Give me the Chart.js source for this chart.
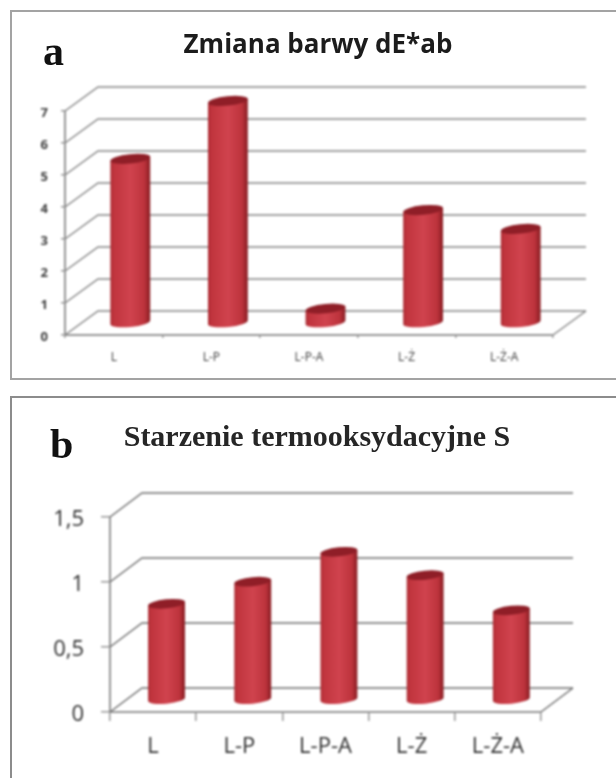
<!DOCTYPE html>
<html>
<head>
<meta charset="utf-8">
<title>Zmiana barwy i starzenie</title>
<script src="https://cdn.jsdelivr.net/npm/chart.js@4"></script>
<style>
  html, body { margin: 0; padding: 0; background: #fff; overflow: hidden; }
  body { position: relative; width: 616px; height: 778px; }
  .frame { position: absolute; box-sizing: border-box; background: #fff; }
  #frameA { left: 10px; top: 10px; width: 620px; height: 370px; border: 2px solid #a3a3a3; }
  #frameB { left: 10px; top: 396px; width: 620px; height: 400px; border: 2px solid #8c8c8c; }
  canvas { position: absolute; filter: blur(0.8px); }
  #chartA { left: 20px; top: 12px; }
  #chartB { left: 18px; top: 398px; }
  .letter { position: absolute; font: bold 42px "Liberation Serif", serif; color: #111; line-height: 1; }
  .title { position: absolute; transform: translate(-50%, -50%); white-space: nowrap; color: #1c1c1c; filter: blur(0.5px); line-height: 1; }
  #titleA { left: 318px; top: 43px; font: bold 26px "Open Sans", sans-serif; }
  #titleB { left: 317px; top: 436px; font: bold 30px "Liberation Serif", serif; color: #262626; }
</style>
</head>
<body>
<div class="frame" id="frameA"></div>
<div class="frame" id="frameB"></div>
<canvas id="chartA" width="596" height="366"></canvas>
<canvas id="chartB" width="598" height="380"></canvas>
<div class="letter" style="left:43px;top:30px">a</div>
<div class="letter" style="left:50px;top:423px">b</div>
<div class="title" id="titleA">Zmiana barwy dE*ab</div>
<div class="title" id="titleB">Starzenie termooksydacyjne S</div>
<script>
  const categories = ["L", "L-P", "L-P-A", "L-Ż", "L-Ż-A"];
  const valuesA = [5.13, 6.94, 0.45, 3.53, 2.94];
  const valuesB = [0.74, 0.91, 1.14, 0.96, 0.69];
  const tickLabelsA = ["0", "1", "2", "3", "4", "5", "6", "7"];
  const tickLabelsB = ["0", "0,5", "1", "1,5"];

  // Excel style 3D look: back wall lines and cylinders instead of flat bars
  const cylinders = {
    id: "cylinders",
    beforeDatasetsDraw(chart, args, opts) {
      const { ctx, chartArea, scales } = chart;
      const { dx, dy, wallColor } = opts;

      ctx.save();
      ctx.strokeStyle = wallColor;
      ctx.lineWidth = 1.5;
      scales.y.ticks.forEach(t => {
        const y = scales.y.getPixelForValue(t.value);
        ctx.beginPath();
        ctx.moveTo(chartArea.left, y);
        ctx.lineTo(chartArea.left + dx, y + dy);
        ctx.lineTo(chartArea.right + dx, y + dy);
        ctx.stroke();
      });
      // right edge of the floor
      const floor = scales.y.getPixelForValue(0);
      ctx.beginPath();
      ctx.moveTo(chartArea.right, floor);
      ctx.lineTo(chartArea.right + dx, floor + dy);
      ctx.stroke();

      chart.getDatasetMeta(0).data.forEach(bar => {
        const cx = bar.x + dx * opts.barDepth;
        const r = bar.width / 2;
        const top = bar.y + dy / 2;
        const bottom = bar.base + dy / 2;
        const ry = opts.capHeight;
        const tilt = -0.1;
        const ex = r * Math.cos(tilt);
        const ey = r * Math.sin(tilt);

        const grad = ctx.createLinearGradient(cx - r, 0, cx + r, 0);
        grad.addColorStop(0, "#a82a31");
        grad.addColorStop(0.08, "#c0343d");
        grad.addColorStop(0.5, "#d0434e");
        grad.addColorStop(0.85, "#bd333c");
        grad.addColorStop(1, "#861c22");

        ctx.beginPath();
        ctx.ellipse(cx, bottom, r, ry, tilt, 0, Math.PI);
        ctx.lineTo(cx - ex, top - ey);
        ctx.lineTo(cx + ex, top + ey);
        ctx.closePath();
        ctx.fillStyle = grad;
        ctx.fill();

        ctx.beginPath();
        ctx.ellipse(cx, top, r, ry, tilt, 0, Math.PI * 2);
        ctx.fillStyle = "#8f1e27";
        ctx.fill();
      });
      ctx.restore();
      return false;
    }
  };

  function makeChart(id, values, tickLabels, cfg) {
    return new Chart(document.getElementById(id).getContext("2d"), {
      type: "bar",
      data: {
        labels: categories,
        datasets: [{
          data: values,
          backgroundColor: "#c83c46",
          categoryPercentage: 1,
          barPercentage: cfg.barPercentage
        }]
      },
      plugins: [cylinders],
      options: {
        responsive: false,
        animation: false,
        layout: { padding: { top: cfg.paddingTop, right: cfg.paddingRight } },
        plugins: {
          legend: { display: false },
          tooltip: { enabled: false },
          cylinders: { dx: cfg.dx, dy: cfg.dy, capHeight: cfg.capHeight, barDepth: cfg.barDepth, wallColor: cfg.wallColor }
        },
        scales: {
          x: {
            afterFit: s => { s.height = cfg.xHeight; },
            grid: { drawOnChartArea: false, tickLength: cfg.xTick, tickColor: cfg.axisColor, lineWidth: 1.5 },
            border: { color: cfg.axisColor, width: 2 },
            ticks: { color: cfg.labelColor, font: cfg.xFont, padding: cfg.xPad, maxRotation: 0, autoSkip: false }
          },
          y: {
            min: 0,
            max: cfg.max,
            afterFit: s => { s.width = cfg.yWidth; },
            grid: { drawOnChartArea: false, tickLength: cfg.yTick, tickColor: cfg.axisColor, lineWidth: 1.5 },
            border: { color: cfg.axisColor, width: 2 },
            ticks: {
              stepSize: cfg.step,
              color: cfg.labelColor,
              font: cfg.yFont,
              padding: cfg.yPad,
              labelOffset: cfg.yLabelOffset,
              callback: (value, i) => tickLabels[i]
            }
          }
        }
      }
    });
  }

  makeChart("chartA", valuesA, tickLabelsA, {
    paddingTop: 99,
    paddingRight: 63,
    barPercentage: 0.41,
    dx: 33, dy: -24, capHeight: 4.7, barDepth: 0.5,
    max: 7, step: 1,
    xHeight: 43, yWidth: 45,
    xTick: 3, yTick: 4,
    xPad: 12, yPad: 13, yLabelOffset: 2,
    xFont: { family: "'Open Sans'", size: 12 },
    yFont: { family: "'Open Sans'", size: 13, weight: "bold" },
    labelColor: "#3c3c3c",
    axisColor: "#969696",
    wallColor: "#858585"
  });

  makeChart("chartB", valuesB, tickLabelsB, {
    paddingTop: 119,
    paddingRight: 75,
    barPercentage: 0.43,
    dx: 32, dy: -24, capHeight: 4.5, barDepth: 0.42,
    max: 1.5, step: 0.5,
    xHeight: 66, yWidth: 92,
    xTick: 9, yTick: 9,
    xPad: 13, yPad: 17, yLabelOffset: 3,
    xFont: { family: "'Open Sans'", size: 22 },
    yFont: { family: "'Open Sans'", size: 22 },
    labelColor: "#2e2e2e",
    axisColor: "#969696",
    wallColor: "#6e6e6e"
  });
</script>
</body>
</html>
